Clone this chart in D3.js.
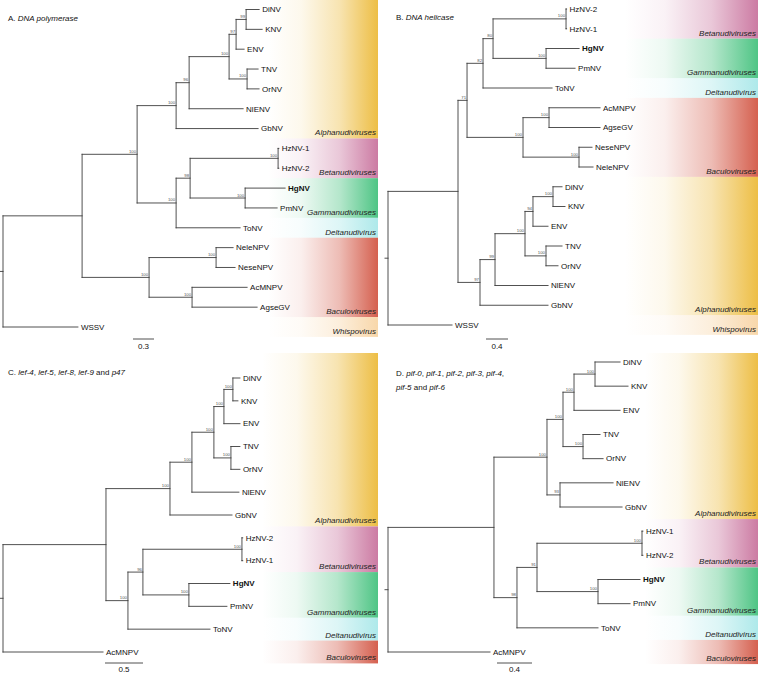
<!DOCTYPE html>
<html><head><meta charset="utf-8">
<script src="https://cdn.jsdelivr.net/npm/d3@7"></script>
<style>
body{margin:0;background:#fff}
svg{display:block}
text{font-family:"Liberation Sans",Arial,Helvetica,sans-serif}
</style>
</head><body>
<svg id="chart" width="760" height="674"></svg>
<script>
// ---------------- DATA ----------------
// Edges: [node, parent, branch length, bootstrap support]
const treeA = [
  ["R","",0,""],
  ["N1","R",1.13,""],["WSSV","R",1.07,""],
  ["Nudi","N1",0.786,"100"],["Bac","N1",0.957,"100"],
  ["Alpha","Nudi",0.557,"100"],["BGD","Nudi",0.557,"100"],
  ["N96","Alpha",0.186,"96"],["GbNV","Alpha",1.171,""],
  ["Core","N96",0.571,"100"],["NlENV","N96",0.771,""],
  ["N97","Core",0.1,"97"],["TO","Core",0.257,"100"],
  ["DK","N97",0.143,"99"],["ENV","N97",0.114,""],
  ["DiNV","DK",0.186,""],["KNV","DK",0.229,""],
  ["TNV","TO",0.157,""],["OrNV","TO",0.171,""],
  ["N98","BGD",0.2,"98"],["ToNV","BGD",0.914,""],
  ["Hz","N98",1.257,"100"],["HgPm","N98",0.786,"100"],
  ["HzNV-1","Hz",0.01,""],["HzNV-2","Hz",0.01,""],
  ["HgNV","HgPm",0.571,""],["PmNV","HgPm",0.457,""],
  ["NN","Bac",0.957,"100"],["AA","Bac",0.614,"100"],
  ["NeleNPV","NN",0.243,""],["NeseNPV","NN",0.271,""],
  ["AcMNPV","AA",0.786,""],["AgseGV","AA",0.929,""]
];
const treeB = [
  ["R","",0,""],
  ["M","R",1.273,""],["WSSV","R",1.164,""],
  ["N71","M",0.164,"71"],["N97","M",0.4,"97"],
  ["N82","N71",0.291,"82"],["Bac","N71",1.018,"100"],
  ["N80","N82",0.182,"80"],["ToNV","N82",1.255,""],
  ["Hz","N80",1.327,"100"],["HgPm","N80",0.964,"100"],
  ["HzNV-2","Hz",0.01,""],["HzNV-1","Hz",0.01,""],
  ["HgNV","HgPm",0.6,""],["PmNV","HgPm",0.527,""],
  ["AA","Bac",0.473,"100"],["NN","Bac",1.018,"100"],
  ["AcMNPV","AA",0.927,""],["AgseGV","AA",0.927,""],
  ["NeseNPV","NN",0.236,""],["NeleNPV","NN",0.255,""],
  ["N99","N97",0.273,"99"],["GbNV","N97",1.236,""],
  ["Core","N99",0.545,"100"],["NlENV","N99",0.964,""],
  ["N94","Core",0.145,"94"],["TO","Core",0.382,"100"],
  ["DK","N94",0.364,"100"],["ENV","N94",0.273,""],
  ["DiNV","DK",0.164,""],["KNV","DK",0.218,""],
  ["TNV","TO",0.291,""],["OrNV","TO",0.218,""]
];
const treeC = [
  ["R","",0,""],
  ["Nudi","R",1.355,""],["AcMNPV","R",1.316,""],
  ["Alpha","Nudi",0.842,"100"],["BGD","Nudi",0.289,"100"],
  ["N100","Alpha",0.289,"100"],["GbNV","Alpha",0.816,""],
  ["Core","N100",0.289,"100"],["NlENV","N100",0.618,""],
  ["DKE","Core",0.132,"100"],["TO","Core",0.224,"100"],
  ["DK","DKE",0.118,"100"],["ENV","DKE",0.211,""],
  ["DiNV","DK",0.092,""],["KNV","DK",0.066,""],
  ["TNV","TO",0.118,""],["OrNV","TO",0.118,""],
  ["N96","BGD",0.197,"96"],["ToNV","BGD",1.079,""],
  ["Hz","N96",1.303,"100"],["HgPm","N96",0.605,"100"],
  ["HzNV-2","Hz",0.01,""],["HzNV-1","Hz",0.01,""],
  ["HgNV","HgPm",0.539,""],["PmNV","HgPm",0.5,""]
];
const treeD = [
  ["R","",0,""],
  ["Nudi","R",1.211,""],["AcMNPV","R",1.166,""],
  ["Alpha","Nudi",0.606,"100"],["BGD","Nudi",0.263,"98"],
  ["Core","Alpha",0.183,"100"],["N93","Alpha",0.149,"93"],
  ["DKE","Core",0.126,"100"],["TO","Core",0.229,"100"],
  ["DK","DKE",0.24,"100"],["ENV","DKE",0.526,""],
  ["DiNV","DK",0.286,""],["KNV","DK",0.377,""],
  ["TNV","TO",0.194,""],["OrNV","TO",0.229,""],
  ["NlENV","N93",0.606,""],["GbNV","N93",0.709,""],
  ["N91","BGD",0.229,"91"],["ToNV","BGD",0.926,""],
  ["Hz","N91",1.2,"100"],["HgPm","N91",0.697,"100"],
  ["HzNV-1","Hz",0.01,""],["HzNV-2","Hz",0.01,""],
  ["HgNV","HgPm",0.48,""],["PmNV","HgPm",0.366,""]
];

// Clade groups: [label, first leaf, last leaf]
const groupsA = [
  ["Alphanudiviruses","DiNV","GbNV"],["Betanudiviruses","HzNV-1","HzNV-2"],
  ["Gammanudiviruses","HgNV","PmNV"],["Deltanudivirus","ToNV","ToNV"],
  ["Baculoviruses","NeleNPV","AgseGV"],["Whispovirus","WSSV","WSSV"]
];
const groupsB = [
  ["Betanudiviruses","HzNV-2","HzNV-1"],["Gammanudiviruses","HgNV","PmNV"],
  ["Deltanudivirus","ToNV","ToNV"],["Baculoviruses","AcMNPV","NeleNPV"],
  ["Alphanudiviruses","DiNV","GbNV"],["Whispovirus","WSSV","WSSV"]
];
const groupsC = [
  ["Alphanudiviruses","DiNV","GbNV"],["Betanudiviruses","HzNV-2","HzNV-1"],
  ["Gammanudiviruses","HgNV","PmNV"],["Deltanudivirus","ToNV","ToNV"],
  ["Baculoviruses","AcMNPV","AcMNPV"]
];
const groupsD = [
  ["Alphanudiviruses","DiNV","GbNV"],["Betanudiviruses","HzNV-1","HzNV-2"],
  ["Gammanudiviruses","HgNV","PmNV"],["Deltanudivirus","ToNV","ToNV"],
  ["Baculoviruses","AcMNPV","AcMNPV"]
];

const scaleBarValues = [0.3, 0.4, 0.5, 0.4];
const boldLeaves = ["HgNV"];

// Titles: [text, italic]
const titleA = [[["A. ",false],["DNA polymerase",true]]];
const titleB = [[["B. ",false],["DNA helicase",true]]];
const titleC = [[["C. ",false],["lef-4",true],[", ",false],["lef-5",true],[", ",false],["lef-8",true],[", ",false],["lef-9",true],[" and ",false],["p47",true]]];
const titleD = [
  [["D. ",false],["pif-0",true],[", ",false],["pif-1",true],[", ",false],["pif-2",true],[", ",false],["pif-3",true],[", ",false],["pif-4",true],[",",false]],
  [["pif-5",true],[" and ",false],["pif-6",true]]
];

// ---------------- STYLE / LAYOUT ----------------
const groupColors = {
  "Alphanudiviruses":"#EDBE45",
  "Betanudiviruses":"#CC7BA3",
  "Gammanudiviruses":"#4FC585",
  "Deltanudivirus":"#AEE9EA",
  "Baculoviruses":"#D5604F",
  "Whispovirus":"#F8D7AA"
};

const panels = [
  {tree:treeA, groups:groupsA, title:titleA, sb:scaleBarValues[0], x0:3,   ppu:70,   yRange:[9.5,327], band:[268,378], bandTop:0,   sbX:133, sbY:339, sbDy:10, tX:8,   tY:21},
  {tree:treeB, groups:groupsB, title:titleB, sb:scaleBarValues[1], x0:388, ppu:55,   yRange:[9,325],   band:[625,758], bandTop:0,   sbX:486, sbY:339, sbDy:10, tX:396, tY:20},
  {tree:treeC, groups:groupsC, title:titleC, sb:scaleBarValues[2], x0:3,   ppu:76,   yRange:[378,652], band:[262,378], bandTop:353, sbX:105, sbY:663, sbDy:8.5, tX:8,   tY:375},
  {tree:treeD, groups:groupsD, title:titleD, sb:scaleBarValues[3], x0:388, ppu:87.5, yRange:[362,652], band:[645,758], bandTop:353, sbX:497, sbY:663, sbDy:8.5, tX:396, tY:376}
];

const svg = d3.select("#chart");
const defs = svg.append("defs");
Object.entries(groupColors).forEach(([name,col],i)=>{
  const g = defs.append("linearGradient").attr("id","grad"+i)
    .attr("x1","0").attr("x2","1").attr("y1","0").attr("y2","0");
  [[0,0],[0.3,0.1],[0.65,0.42],[1,1]].forEach(([o,a])=>{
    g.append("stop").attr("offset",o).attr("stop-color",col).attr("stop-opacity",a);
  });
});
const gradIndex = name => Object.keys(groupColors).indexOf(name);

const LINE = "#3d3d3d";

panels.forEach(p=>{
  const g = svg.append("g");
  const root = d3.stratify().id(d=>d[0]).parentId(d=>d[1])(p.tree);
  root.eachBefore(n=>{ n.dist = n.parent ? n.parent.dist + n.data[2] : 0; });
  const leaves = root.leaves();
  const x = d3.scaleLinear().domain([0,1]).range([p.x0, p.x0 + p.ppu]);
  const yLeaf = d3.scalePoint().domain(leaves.map(l=>l.id)).range(p.yRange);
  const step = yLeaf.step();
  root.eachAfter(n=>{
    if(!n.children) n.yy = yLeaf(n.id);
    else n.yy = (n.children[0].yy + n.children[n.children.length-1].yy)/2;
    n.xx = x(n.dist);
  });

  // bands
  const bandG = g.append("g");
  p.groups.forEach((gr,i)=>{
    let y1 = yLeaf(gr[1]) - step/2;
    const y2 = yLeaf(gr[2]) + step/2;
    if(i===0) y1 = p.bandTop;
    bandG.append("rect").attr("x",p.band[0]).attr("y",y1)
      .attr("width",p.band[1]-p.band[0]).attr("height",y2-y1)
      .attr("fill",`url(#grad${gradIndex(gr[0])})`);
    bandG.append("text").attr("x",p.band[1]-2).attr("y",y2-3)
      .attr("text-anchor","end").attr("font-size",8).attr("font-style","italic")
      .attr("fill","#222").text(gr[0]);
  });

  // branches
  const path = d3.path();
  root.descendants().forEach(n=>{
    if(n.parent){ path.moveTo(n.parent.xx, n.yy); path.lineTo(n.xx, n.yy); }
    if(n.children){
      path.moveTo(n.xx, n.children[0].yy);
      path.lineTo(n.xx, n.children[n.children.length-1].yy);
    }
  });
  path.moveTo(root.xx-3, root.yy); path.lineTo(root.xx, root.yy);
  g.append("path").attr("d",path.toString()).attr("fill","none")
    .attr("stroke",LINE).attr("stroke-width",0.9).attr("stroke-linecap","square");

  // leaf labels
  g.selectAll("text.leaf").data(leaves).join("text").attr("class","leaf")
    .attr("x",d=>d.xx+3).attr("y",d=>d.yy).attr("dy","0.35em")
    .attr("font-size",8).attr("fill","#111")
    .attr("font-weight",d=>boldLeaves.includes(d.id)?"bold":"normal")
    .text(d=>d.id);

  // bootstrap supports
  g.selectAll("text.bs").data(root.descendants().filter(n=>n.children && n.data[3]))
    .join("text").attr("class","bs")
    .attr("x",d=>d.xx-1).attr("y",d=>d.yy-1.5)
    .attr("text-anchor","end").attr("font-size",4.3).attr("fill","#555")
    .text(d=>d.data[3]);

  // scale bar
  const sbLen = x(p.sb) - x(0);
  g.append("line").attr("x1",p.sbX).attr("x2",p.sbX+sbLen).attr("y1",p.sbY).attr("y2",p.sbY)
    .attr("stroke",LINE).attr("stroke-width",0.9);
  g.append("text").attr("x",p.sbX+sbLen/2).attr("y",p.sbY+p.sbDy).attr("text-anchor","middle")
    .attr("font-size",8).attr("fill","#111").text(p.sb);

  // title
  p.title.forEach((line,li)=>{
    const t = g.append("text").attr("x",p.tX).attr("y",p.tY + li*13.5)
      .attr("font-size",8).attr("fill","#111");
    line.forEach(([s,it])=>t.append("tspan").attr("font-style",it?"italic":"normal").text(s));
  });
});
</script>
</body></html>
